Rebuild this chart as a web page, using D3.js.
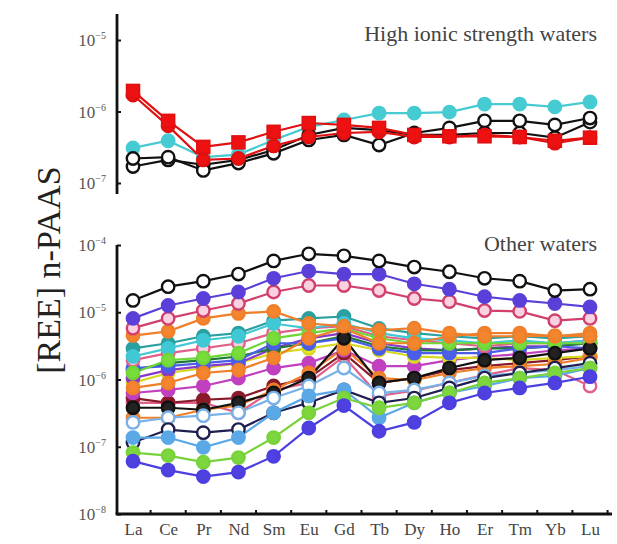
<!DOCTYPE html>
<html><head><meta charset="utf-8">
<script src="https://cdn.jsdelivr.net/npm/d3@7"></script>
<style>body{margin:0;background:#fff}svg{display:block}</style>
</head><body>
<svg id="c" width="617" height="544"></svg>
<script>
// ---------- DATA ----------
const elements = ["La","Ce","Pr","Nd","Sm","Eu","Gd","Tb","Dy","Ho","Er","Tm","Yb","Lu"];
const topTicks = [1e-7, 1e-6, 1e-5];
const bottomTicks = [1e-8, 1e-7, 1e-6, 1e-5, 1e-4];
const topTitle = "High ionic strength waters";
const bottomTitle = "Other waters";
const yLabel = "[REE] n-PAAS";

// High ionic strength waters
const hiCyan   = [3.1e-7,3.9e-7,2.3e-7,2.5e-7,4.0e-7,6.1e-7,7.6e-7,9.5e-7,9.5e-7,9.8e-7,1.27e-6,1.27e-6,1.16e-6,1.36e-6];
const hiBlack1 = [2.2e-7,2.3e-7,1.5e-7,1.9e-7,2.6e-7,4.0e-7,4.7e-7,3.4e-7,5.0e-7,5.9e-7,7.4e-7,7.4e-7,6.5e-7,8.1e-7];
const hiBlack2 = [1.7e-7,2.1e-7,1.8e-7,2.1e-7,2.9e-7,4.7e-7,5.9e-7,5.5e-7,4.7e-7,4.7e-7,5.0e-7,5.0e-7,4.3e-7,7.1e-7];
const hiRed2   = [1.7e-6,6.3e-7,2.1e-7,2.2e-7,3.3e-7,4.4e-7,5.0e-7,5.2e-7,4.4e-7,4.4e-7,4.7e-7,4.4e-7,3.6e-7,4.3e-7];
const hiRed1   = [1.94e-6,7.4e-7,3.2e-7,3.7e-7,5.2e-7,6.9e-7,6.5e-7,5.9e-7,4.7e-7,4.5e-7,4.5e-7,4.4e-7,3.9e-7,4.3e-7];

// Other waters
const owBlueLow   = [6.1e-8,4.5e-8,3.6e-8,4.2e-8,7.2e-8,1.9e-7,4.1e-7,1.7e-7,2.3e-7,4.5e-7,6.3e-7,7.5e-7,8.9e-7,1.1e-6];
const owGreenLow  = [8.2e-8,7.4e-8,5.9e-8,6.9e-8,1.37e-7,3.2e-7,5.3e-7,3.8e-7,4.5e-7,6.3e-7,8.9e-7,1.05e-6,1.25e-6,1.48e-6];
const owSkyLow    = [1.37e-7,1.37e-7,9.8e-8,1.37e-7,3.2e-7,5.7e-7,7.0e-7,2.7e-7,4.5e-7,6.3e-7,8.0e-7,1.05e-6,1.13e-6,1.48e-6];
const owNavy      = [1.16e-7,1.8e-7,1.62e-7,1.8e-7,3.2e-7,4.5e-7,7.0e-7,4.5e-7,5.3e-7,7.5e-7,1.05e-6,1.25e-6,1.48e-6,1.75e-6];
const owOpenBlue  = [2.3e-7,2.7e-7,2.9e-7,3.2e-7,5.3e-7,8.0e-7,1.48e-6,6.3e-7,7.0e-7,8.9e-7,1.13e-6,1.25e-6,1.38e-6,1.58e-6];
const owOrangeLow = [2.7e-7,2.7e-7,3.55e-7,4.1e-7,7.0e-7,1.25e-6,2.9e-6,1.05e-6,9.8e-7,1.25e-6,1.48e-6,1.58e-6,1.7e-6,2.1e-6];
const owBlackGd   = [3.8e-7,3.8e-7,3.55e-7,4.5e-7,6.3e-7,1.05e-6,4.1e-6,8.9e-7,1.05e-6,1.48e-6,1.94e-6,2.1e-6,2.46e-6,2.9e-6];
const owOpenPink  = [4.5e-7,4.5e-7,4.5e-7,3.2e-7,7.0e-7,8.9e-7,2.2e-6,5.7e-7,6.8e-7,8.9e-7,1.16e-6,1.48e-6,1.38e-6,8.0e-7];
const owDarkRed   = [5.3e-7,4.5e-7,5.0e-7,5.3e-7,8.0e-7,1.05e-6,2.46e-6,8.9e-7,1.05e-6,1.38e-6,1.58e-6,1.75e-6,1.94e-6,2.2e-6];
const owMagenta   = [6.3e-7,7.0e-7,8.0e-7,1.05e-6,1.48e-6,1.75e-6,2.72e-6,1.58e-6,1.58e-6,1.94e-6,2.2e-6,2.38e-6,2.72e-6,2.9e-6];
const owOrangeMid = [7.5e-7,8.9e-7,1.25e-6,1.38e-6,2.1e-6,4.1e-6,5.75e-6,3.46e-6,3.46e-6,4.4e-6,4.9e-6,4.9e-6,4.4e-6,4.9e-6];
const owYellow    = [8.9e-7,1.25e-6,1.48e-6,1.75e-6,2.46e-6,2.9e-6,3.46e-6,2.72e-6,2.2e-6,2.1e-6,2.1e-6,1.94e-6,2.1e-6,2.2e-6];
const owPurple    = [1.05e-6,1.38e-6,1.58e-6,1.75e-6,2.9e-6,4.1e-6,4.9e-6,3.46e-6,2.9e-6,2.72e-6,2.9e-6,3.12e-6,3.12e-6,3.46e-6];
const owDarkGreen = [1.38e-6,1.75e-6,1.94e-6,2.2e-6,2.9e-6,3.46e-6,4.4e-6,3.12e-6,2.72e-6,2.72e-6,2.9e-6,2.9e-6,3.12e-6,3.46e-6];
const owBlue      = [1.48e-6,1.58e-6,1.75e-6,1.94e-6,3.46e-6,3.46e-6,4.1e-6,2.9e-6,2.46e-6,2.46e-6,2.46e-6,2.9e-6,3.12e-6,2.9e-6];
const owGreen     = [1.25e-6,1.94e-6,2.1e-6,2.46e-6,4.1e-6,4.9e-6,5.75e-6,4.1e-6,3.46e-6,3.46e-6,3.46e-6,3.46e-6,3.46e-6,3.46e-6];
const owPinkMid   = [1.94e-6,2.46e-6,2.9e-6,3.46e-6,4.9e-6,5.75e-6,6.2e-6,4.4e-6,3.83e-6,3.46e-6,3.12e-6,3.46e-6,3.46e-6,3.83e-6];
const owCyan      = [2.2e-6,2.9e-6,3.83e-6,4.4e-6,6.8e-6,5.75e-6,6.8e-6,4.9e-6,4.1e-6,3.83e-6,3.46e-6,3.83e-6,3.46e-6,3.83e-6];
const owTeal      = [2.9e-6,3.46e-6,4.4e-6,4.9e-6,7.5e-6,8.1e-6,8.65e-6,5.75e-6,4.9e-6,4.4e-6,4.1e-6,4.4e-6,4.1e-6,4.4e-6];
const owOrangeTop = [4.5e-6,5.2e-6,8.1e-6,9.6e-6,1.03e-5,6.8e-6,6.2e-6,5.4e-6,5.8e-6,4.9e-6,4.4e-6,4.4e-6,4.5e-6,4.4e-6];
const owPinkTop   = [5.8e-6,8.1e-6,1.06e-5,1.35e-5,2.0e-5,2.5e-5,2.5e-5,2.1e-5,1.6e-5,1.44e-5,1.06e-5,1.03e-5,7.5e-6,8.1e-6];
const owPurpleTop = [8.1e-6,1.26e-5,1.6e-5,2.0e-5,3.2e-5,4.1e-5,3.7e-5,3.7e-5,2.65e-5,2.2e-5,1.7e-5,1.5e-5,1.35e-5,1.2e-5];
const owBlackTop  = [1.5e-5,2.4e-5,2.9e-5,3.7e-5,5.8e-5,7.4e-5,6.9e-5,5.8e-5,4.7e-5,4.0e-5,3.2e-5,2.9e-5,2.1e-5,2.2e-5];

// ---------- STYLES ----------
const topSeries = [
  {v: hiCyan,   line:"#46cbd2", fill:"#46cbd2", edge:"#46cbd2", shape:"c"},
  {v: hiBlack2, line:"#111",    fill:"#fff",    edge:"#111",    shape:"c"},
  {v: hiBlack1, line:"#111",    fill:"#fff",    edge:"#111",    shape:"c"},
  {v: hiRed2,   line:"#e01010", fill:"#ee1111", edge:"#e01010", shape:"c"},
  {v: hiRed1,   line:"#e01010", fill:"#ee1111", edge:"#e01010", shape:"s"}
];
const bottomSeries = [
  {v: owOpenPink,  line:"#e0608a", fill:"#fff",    edge:"#e0608a"},
  {v: owDarkRed,   line:"#8a1a2a", fill:"#8a1a2a", edge:"#8a1a2a"},
  {v: owMagenta,   line:"#c040c0", fill:"#c040c0", edge:"#c040c0"},
  {v: owYellow,    line:"#d8d820", fill:"#e8e828", edge:"#d8d820"},
  {v: owPurple,    line:"#8a38c8", fill:"#8a38c8", edge:"#8a38c8"},
  {v: owDarkGreen, line:"#1f7a3a", fill:"#1f7a3a", edge:"#1f7a3a"},
  {v: owBlue,      line:"#4a5ee8", fill:"#4a5ee8", edge:"#4a5ee8"},
  {v: owPinkMid,   line:"#e0608a", fill:"#fbd0e0", edge:"#e0608a"},
  {v: owTeal,      line:"#2aa0a0", fill:"#2aa0a0", edge:"#2aa0a0"},
  {v: owCyan,      line:"#40c8d4", fill:"#40c8d4", edge:"#40c8d4"},
  {v: owGreen,     line:"#6ed636", fill:"#78dc3a", edge:"#6ed636"},
  {v: owOrangeMid, line:"#f07f2a", fill:"#f2852e", edge:"#f07f2a"},
  {v: owOrangeLow, line:"#f07f2a", fill:"#f2852e", edge:"#f07f2a"},
  {v: owBlackGd,   line:"#111",    fill:"#222",    edge:"#111"},
  {v: owOpenBlue,  line:"#7ab0e8", fill:"#fff",    edge:"#7ab0e8"},
  {v: owNavy,      line:"#202050", fill:"#fff",    edge:"#202050"},
  {v: owSkyLow,    line:"#5aa9e6", fill:"#5aa9e6", edge:"#5aa9e6"},
  {v: owGreenLow,  line:"#78d23a", fill:"#7ed63e", edge:"#78d23a"},
  {v: owBlueLow,   line:"#4b3fe0", fill:"#5040e0", edge:"#4b3fe0"},
  {v: owOrangeTop, line:"#f07f2a", fill:"#f2852e", edge:"#f07f2a"},
  {v: owPinkTop,   line:"#d0406a", fill:"#fbd0e0", edge:"#d0406a"},
  {v: owPurpleTop, line:"#5b3fd8", fill:"#5b3fd8", edge:"#5b3fd8"},
  {v: owBlackTop,  line:"#111",    fill:"#fff",    edge:"#111"}
];

// ---------- DRAW ----------
const svg = d3.select("#c");
const serif = "'Liberation Serif','DejaVu Serif',serif";
const axX = 117;
const x = d3.scalePoint().domain(elements).range([133, 590]);
const yTop = d3.scaleLog().domain([1e-7, 1e-5]).range([183, 40]);
const yBot = d3.scaleLog().domain([1e-8, 1e-4]).range([514, 245]);
function sup(v){ return String(Math.round(Math.log10(v))).replace("-", "\u2212"); }

function panel(ys, series, ticks, axisTop, axisBottom, withX) {
  const g = svg.append("g");
  const line = d3.line().x((d,i)=>x(elements[i])).y(d=>ys(d));
  series.forEach(s => {
    g.append("path").attr("d", line(s.v)).attr("fill","none")
      .attr("stroke", s.line).attr("stroke-width", 2.2);
  });
  series.forEach(s => {
    const m = g.append("g");
    s.v.forEach((d,i) => {
      if (s.shape === "s") {
        m.append("rect").attr("x", x(elements[i])-6.5).attr("y", ys(d)-6.5)
          .attr("width",13).attr("height",13)
          .attr("fill", s.fill).attr("stroke", s.edge).attr("stroke-width",1.5);
      } else {
        m.append("circle").attr("cx", x(elements[i])).attr("cy", ys(d)).attr("r", 6.2)
          .attr("fill", s.fill).attr("stroke", s.edge).attr("stroke-width", 2.4);
      }
    });
  });
  const ax = d3.axisRight(ys).tickValues(ticks).tickSize(4).tickFormat("");
  const ag = svg.append("g").attr("transform", `translate(${axX},0)`).call(ax);
  ag.select(".domain").remove();
  ag.selectAll(".tick line").attr("stroke","#111").attr("stroke-width",2);
  svg.append("line").attr("x1",axX).attr("x2",axX).attr("y1",axisTop).attr("y2",axisBottom)
    .attr("stroke","#111").attr("stroke-width",2.8);
  ticks.forEach(t => {
    const tx = svg.append("text").attr("x", 106).attr("y", ys(t)+6)
      .attr("text-anchor","end").attr("font-family", serif).attr("font-size", 17)
      .attr("fill","#555");
    tx.append("tspan").text("10");
    tx.append("tspan").attr("dy", -7).attr("font-size", 10).text(sup(t));
  });
  if (withX) {
    svg.append("line").attr("x1",axX-1.4).attr("x2",612).attr("y1",axisBottom).attr("y2",axisBottom)
      .attr("stroke","#111").attr("stroke-width",2.8);
    const mids = elements.slice(0,-1).map((e,i)=> (x(e)+x(elements[i+1]))/2);
    mids.push(x(elements[elements.length-1]) + x.step()/2);
    svg.selectAll(null).data(mids).enter().append("line")
      .attr("x1",d=>d).attr("x2",d=>d).attr("y1",axisBottom).attr("y2",axisBottom-4)
      .attr("stroke","#111").attr("stroke-width",2);
    const xa = d3.axisBottom(x).tickSize(0).tickPadding(9);
    const xg = svg.append("g").attr("transform",`translate(0,${axisBottom})`).call(xa);
    xg.select(".domain").remove();
    xg.selectAll("text").attr("font-family", serif).attr("font-size", 17).attr("fill","#444");
  }
}

panel(yTop, topSeries, topTicks, 14, 194, false);
panel(yBot, bottomSeries, bottomTicks, 245, 514, true);

svg.append("text").attr("x", 597).attr("y", 41).attr("text-anchor","end")
  .attr("font-family", serif).attr("font-size", 22).attr("fill","#444").text(topTitle);
svg.append("text").attr("x", 597).attr("y", 251).attr("text-anchor","end")
  .attr("font-family", serif).attr("font-size", 22).attr("fill","#444").text(bottomTitle);
svg.append("text").attr("transform","translate(60,270) rotate(-90)").attr("text-anchor","middle")
  .attr("font-family", serif).attr("font-size", 34).attr("fill","#222").text(yLabel);
</script>
</body></html>
